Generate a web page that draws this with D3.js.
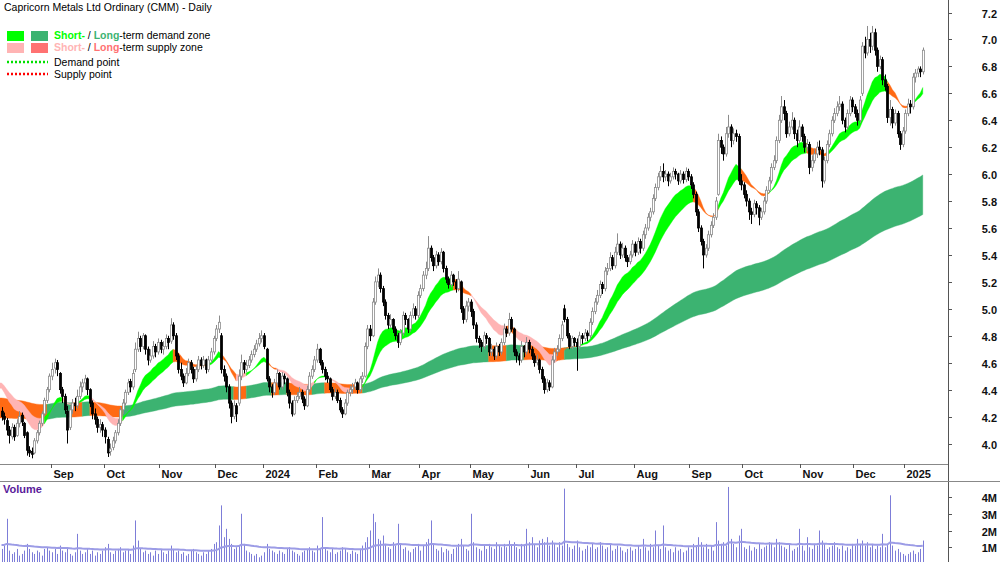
<!DOCTYPE html>
<html>
<head>
<meta charset="utf-8">
<script src="https://cdn.jsdelivr.net/npm/d3@7"></script>
<style>
  body { margin: 0; background: #fff; }
  svg { display: block; font-family: "Liberation Sans", Arial, sans-serif; }
</style>
</head>
<body>
<svg id="chart" width="1000" height="562"></svg>
<script>
'use strict';

// ---- data ----
var firstDay = '2023-08-04';
var holidays = ['2023-12-25','2023-12-26','2024-01-01','2024-01-26','2024-03-29','2024-04-01',
	'2024-04-25','2024-06-10','2024-12-25','2024-12-26','2025-01-01'];

var opens = [4.24,4.20,4.17,4.10,4.05,4.12,4.06,4.15,4.21,4.15,4.08,3.95,3.94,3.93,4.02,4.08,4.15,4.22,4.32,4.40,
	4.50,4.56,4.60,4.52,4.40,4.35,4.24,4.12,4.25,4.30,4.28,4.35,4.42,4.45,4.48,4.40,4.30,4.22,4.18,4.12,4.14,
	4.10,4.03,3.94,3.97,4.02,4.08,4.15,4.25,4.30,4.38,4.46,4.42,4.55,4.70,4.78,4.72,4.80,4.70,4.62,4.65,4.72,4.68,
	4.75,4.70,4.72,4.78,4.76,4.88,4.80,4.65,4.55,4.50,4.45,4.52,4.60,4.55,4.48,4.55,4.62,4.58,4.62,4.55,4.62,4.68,
	4.78,4.85,4.80,4.55,4.50,4.42,4.30,4.20,4.28,4.30,4.50,4.60,4.55,4.58,4.62,4.66,4.70,4.74,4.78,
	4.80,4.70,4.48,4.42,4.38,4.45,4.52,4.42,4.50,4.48,4.38,4.30,4.22,4.32,4.35,4.38,4.33,4.28,4.40,4.50,4.55,
	4.62,4.70,4.60,4.55,4.50,4.48,4.40,4.35,4.38,4.32,4.25,4.22,4.30,4.38,4.40,4.42,4.45,4.40,4.48,4.50,4.72,
	4.85,4.80,5.05,5.20,5.25,5.15,5.05,4.95,4.88,4.92,4.85,4.80,4.75,4.82,4.95,4.92,4.85,4.95,5.00,4.95,
	5.10,5.15,5.25,5.30,5.45,5.38,5.32,5.40,5.35,5.42,5.30,5.22,5.18,5.25,5.20,5.15,5.20,5.00,4.92,5.02,
	5.05,4.98,4.88,4.78,4.75,4.72,4.80,4.78,4.68,4.70,4.65,4.72,4.68,4.75,4.85,4.82,4.92,4.85,4.68,4.65,4.62,4.72,4.68,
	4.75,4.70,4.65,4.60,4.62,4.55,4.48,4.40,4.45,4.42,4.62,4.68,4.70,4.78,5.00,4.92,4.80,4.72,4.78,
	4.75,4.72,4.80,4.78,4.82,4.80,4.90,4.98,5.05,5.10,5.18,5.15,5.28,5.30,5.38,5.32,5.42,5.48,5.40,5.45,5.38,5.35,5.40,
	5.48,5.42,5.50,5.45,5.55,5.60,5.68,5.72,5.82,5.90,5.98,6.02,5.98,6.00,5.95,5.98,6.02,6.00,5.95,6.00,5.96,6.02,
	5.98,5.92,5.85,5.72,5.60,5.50,5.40,5.45,5.55,5.62,5.68,5.85,6.25,6.20,6.15,6.30,6.35,6.25,6.30,6.28,5.95,
	5.92,5.85,5.80,5.72,5.70,5.78,5.75,5.68,5.72,5.80,5.88,5.95,6.05,6.10,6.25,6.40,6.50,6.45,6.30,6.35,6.40,6.30,6.25,
	6.35,6.28,6.20,6.22,6.05,6.10,6.15,6.20,6.18,5.95,6.10,6.22,6.30,6.40,6.45,6.50,6.52,6.40,6.35,6.45,6.55,
	6.50,6.45,6.40,6.60,6.95,6.90,7.00,6.95,7.05,6.92,6.80,6.85,6.70,6.65,6.42,6.48,6.38,6.45,6.30,6.22,
	6.32,6.45,6.52,6.50,6.72,6.75,6.78,6.76];

var highs = [4.27,4.23,4.19,4.13,4.15,4.14,4.18,4.24,4.23,4.16,4.09,3.98,3.97,4.04,4.10,4.17,4.24,4.34,4.42,4.52,
	4.60,4.63,4.62,4.53,4.42,4.37,4.28,4.28,4.33,4.34,4.40,4.46,4.48,4.51,4.49,4.41,4.32,4.26,4.20,4.18,4.16,
	4.12,4.05,4.00,4.05,4.10,4.18,4.27,4.33,4.40,4.48,4.48,4.55,4.75,4.83,4.80,4.82,4.81,4.72,4.70,4.76,4.74,4.78,
	4.77,4.76,4.81,4.80,4.93,4.90,4.82,4.67,4.60,4.52,4.56,4.63,4.62,4.57,4.58,4.65,4.64,4.65,4.63,4.65,4.71,4.80,
	4.88,4.95,4.82,4.58,4.52,4.44,4.32,4.32,4.30,4.55,4.66,4.62,4.62,4.65,4.69,4.73,4.77,4.82,4.84,
	4.82,4.71,4.50,4.44,4.48,4.55,4.53,4.53,4.52,4.49,4.40,4.32,4.35,4.38,4.42,4.40,4.35,4.43,4.53,4.58,4.65,
	4.74,4.71,4.62,4.57,4.53,4.49,4.42,4.41,4.40,4.34,4.27,4.33,4.40,4.43,4.45,4.48,4.46,4.50,4.53,4.75,4.88,
	4.88,5.08,5.24,5.30,5.27,5.17,5.07,4.97,4.96,4.93,4.87,4.82,4.85,4.98,4.97,4.93,4.98,5.04,5.02,5.13,
	5.18,5.28,5.35,5.54,5.47,5.40,5.43,5.42,5.45,5.43,5.32,5.24,5.28,5.26,5.22,5.28,5.21,5.02,5.06,5.08,
	5.07,5.00,4.90,4.80,4.77,4.83,4.82,4.79,4.74,4.72,4.75,4.74,4.78,4.89,4.87,4.97,4.94,4.86,4.70,4.67,4.76,4.73,4.79,
	4.77,4.72,4.67,4.66,4.63,4.57,4.50,4.48,4.47,4.65,4.71,4.73,4.81,4.91,5.03,4.94,4.82,4.80,4.79,
	4.78,4.83,4.82,4.85,4.84,4.93,5.01,5.08,5.14,5.21,5.20,5.31,5.34,5.42,5.40,5.46,5.56,5.50,5.49,5.47,5.40,5.43,5.51,
	5.50,5.53,5.52,5.58,5.63,5.71,5.75,5.85,5.93,6.01,6.06,6.08,6.03,6.02,6.01,6.05,6.04,6.01,6.03,6.02,6.05,6.04,
	6.00,5.94,5.87,5.74,5.62,5.52,5.48,5.58,5.65,5.71,5.83,6.30,6.28,6.22,6.35,6.44,6.37,6.34,6.33,6.30,6.00,
	5.94,5.88,5.82,5.75,5.81,5.80,5.77,5.75,5.83,5.91,5.98,6.08,6.14,6.28,6.44,6.58,6.55,6.47,6.39,6.46,6.42,6.33,6.40,
	6.37,6.30,6.26,6.24,6.14,6.19,6.24,6.25,6.20,6.13,6.25,6.33,6.43,6.49,6.54,6.58,6.54,6.42,6.48,6.58,6.57,
	6.52,6.48,6.58,6.98,7.02,7.10,7.05,7.10,7.08,6.94,6.88,6.87,6.74,6.67,6.55,6.50,6.48,6.47,6.32,6.35,
	6.48,6.56,6.55,6.75,6.78,6.80,6.80,6.94];

var lows = [4.17,4.14,4.06,4.00,4.03,4.02,4.05,4.12,4.13,4.04,3.91,3.90,3.89,3.92,4.00,4.06,4.13,4.20,4.30,4.38,
	4.47,4.52,4.50,4.37,4.30,4.22,4.00,4.10,4.22,4.24,4.26,4.33,4.38,4.40,4.36,4.27,4.18,4.14,4.08,4.08,4.05,
	4.00,3.90,3.91,3.95,4.00,4.06,4.13,4.22,4.28,4.36,4.38,4.40,4.53,4.68,4.68,4.70,4.66,4.58,4.60,4.63,4.64,4.66,
	4.67,4.66,4.70,4.70,4.74,4.77,4.62,4.52,4.47,4.42,4.44,4.50,4.52,4.45,4.46,4.53,4.55,4.56,4.52,4.53,4.60,4.66,
	4.76,4.82,4.52,4.46,4.38,4.26,4.15,4.18,4.16,4.28,4.47,4.52,4.53,4.56,4.60,4.64,4.68,4.72,4.75,
	4.70,4.46,4.38,4.34,4.36,4.43,4.40,4.40,4.44,4.35,4.26,4.20,4.21,4.30,4.33,4.30,4.25,4.27,4.38,4.48,4.53,
	4.60,4.58,4.52,4.47,4.45,4.38,4.32,4.33,4.30,4.23,4.19,4.21,4.28,4.35,4.37,4.40,4.37,4.38,4.45,4.49,4.70,
	4.76,4.79,5.03,5.16,5.12,5.02,4.92,4.85,4.86,4.82,4.77,4.71,4.73,4.80,4.88,4.82,4.83,4.93,4.92,4.93,
	5.08,5.13,5.22,5.28,5.35,5.28,5.30,5.32,5.33,5.27,5.19,5.15,5.16,5.17,5.12,5.13,4.97,4.89,4.90,4.98,
	4.94,4.85,4.75,4.71,4.68,4.70,4.74,4.65,4.65,4.62,4.63,4.65,4.66,4.73,4.79,4.80,4.83,4.65,4.60,4.58,4.60,4.64,4.66,
	4.67,4.62,4.57,4.58,4.52,4.45,4.37,4.38,4.39,4.41,4.60,4.65,4.68,4.76,4.90,4.78,4.70,4.70,4.72,
	4.54,4.70,4.74,4.76,4.76,4.78,4.88,4.96,5.03,5.08,5.11,5.13,5.25,5.28,5.29,5.30,5.40,5.37,5.38,5.35,5.31,5.33,5.38,
	5.39,5.40,5.41,5.43,5.52,5.58,5.65,5.70,5.80,5.88,5.95,5.94,5.95,5.91,5.93,5.96,5.96,5.92,5.93,5.93,5.94,5.95,
	5.89,5.82,5.69,5.57,5.47,5.30,5.38,5.43,5.53,5.60,5.66,5.84,6.15,6.10,6.13,6.27,6.20,6.22,6.24,5.92,5.88,
	5.82,5.76,5.66,5.63,5.68,5.70,5.62,5.66,5.70,5.78,5.86,5.93,6.03,6.08,6.23,6.38,6.40,6.27,6.28,6.33,6.26,6.20,6.23,
	6.24,6.16,6.17,6.00,6.02,6.08,6.12,6.14,5.90,5.93,6.08,6.20,6.28,6.38,6.43,6.47,6.37,6.31,6.33,6.43,6.46,
	6.42,6.36,6.38,6.58,6.86,6.88,6.90,6.92,6.88,6.76,6.78,6.66,6.62,6.38,6.36,6.34,6.36,6.27,6.18,6.20,
	6.30,6.43,6.45,6.48,6.68,6.72,6.72,6.74];

var closes = [4.20,4.18,4.10,4.06,4.12,4.05,4.15,4.20,4.16,4.06,3.95,3.93,3.92,4.02,4.08,4.15,4.22,4.32,4.40,4.50,
	4.55,4.60,4.55,4.40,4.35,4.25,4.10,4.25,4.30,4.28,4.35,4.42,4.45,4.48,4.40,4.30,4.22,4.18,4.12,4.14,4.10,
	4.05,3.93,3.96,4.02,4.08,4.15,4.25,4.30,4.38,4.45,4.42,4.52,4.70,4.78,4.72,4.80,4.70,4.62,4.65,4.72,4.68,4.75,
	4.70,4.72,4.78,4.75,4.88,4.80,4.65,4.55,4.50,4.45,4.52,4.60,4.55,4.48,4.55,4.62,4.58,4.62,4.55,4.62,4.68,4.78,
	4.85,4.90,4.55,4.50,4.42,4.30,4.20,4.28,4.22,4.50,4.60,4.55,4.58,4.62,4.66,4.70,4.74,4.78,4.80,
	4.72,4.48,4.42,4.38,4.45,4.52,4.42,4.50,4.48,4.38,4.30,4.22,4.32,4.35,4.38,4.33,4.28,4.40,4.50,4.55,4.62,
	4.70,4.60,4.55,4.50,4.48,4.40,4.35,4.38,4.32,4.25,4.22,4.30,4.38,4.40,4.42,4.45,4.40,4.48,4.50,4.72,4.85,
	4.80,5.05,5.20,5.25,5.15,5.05,4.95,4.88,4.92,4.85,4.80,4.75,4.82,4.95,4.92,4.85,4.95,5.00,4.95,5.10,
	5.15,5.25,5.30,5.45,5.38,5.32,5.40,5.35,5.42,5.30,5.22,5.18,5.25,5.20,5.15,5.22,5.00,4.92,5.02,5.05,
	4.98,4.88,4.78,4.75,4.72,4.80,4.78,4.68,4.70,4.65,4.72,4.68,4.75,4.85,4.82,4.92,4.85,4.68,4.65,4.62,4.72,4.68,4.75,
	4.70,4.65,4.60,4.62,4.55,4.48,4.40,4.45,4.42,4.62,4.68,4.70,4.78,4.88,4.92,4.80,4.72,4.78,4.75,
	4.72,4.80,4.78,4.82,4.80,4.90,4.98,5.05,5.10,5.18,5.15,5.28,5.30,5.38,5.32,5.42,5.48,5.40,5.45,5.38,5.35,5.40,5.48,
	5.42,5.50,5.45,5.55,5.60,5.68,5.72,5.82,5.90,5.98,6.02,5.98,6.00,5.95,5.98,6.02,6.00,5.95,6.00,5.96,6.02,5.98,
	5.92,5.85,5.72,5.60,5.50,5.40,5.45,5.55,5.62,5.68,5.80,6.25,6.20,6.15,6.30,6.35,6.25,6.30,6.28,5.95,5.92,
	5.85,5.80,5.72,5.70,5.78,5.75,5.68,5.72,5.80,5.88,5.95,6.05,6.10,6.25,6.40,6.50,6.45,6.30,6.35,6.40,6.30,6.25,6.35,
	6.28,6.20,6.22,6.05,6.10,6.15,6.20,6.18,5.95,6.10,6.22,6.30,6.40,6.45,6.50,6.52,6.40,6.35,6.45,6.55,6.50,
	6.45,6.40,6.55,6.95,6.90,7.00,6.95,7.05,6.92,6.80,6.85,6.70,6.65,6.42,6.48,6.38,6.45,6.30,6.22,6.32,
	6.45,6.52,6.50,6.72,6.75,6.78,6.76,6.92];

// volume in millions of shares
var volumes = [0.9,1.1,2.7,0.8,0.6,0.7,0.9,0.5,0.6,0.8, 1.2,0.9,0.7,0.6,0.8,0.7,0.5,0.9,1.0,0.8,
	0.7,0.9,0.6,1.1,0.8,0.7,1.0,0.6,0.5,0.7, 1.8,0.8,0.6,0.7,0.9,0.6,0.8,0.5,0.7,0.6,
	0.8,1.0,1.2,0.7,0.6,0.8,0.9,1.0,0.7,0.8, 0.9,0.6,1.1,2.6,1.4,0.9,0.7,0.8,0.6,0.7,
	0.5,0.8,0.6,0.9,0.7,0.6,0.8,1.1,0.9,0.7, 0.8,0.6,0.7,0.5,0.6,0.8,0.9,0.7,0.6,0.5,
	0.7,0.6,0.8,0.9,1.2,1.3,2.3,3.5,1.6,2.1, 1.5,1.2,0.9,1.0,1.1,3.0,1.2,0.8,0.7,0.6,
	0.5,0.6,0.4,0.5,0.7,1.2,0.9,0.8,0.7,0.6, 0.8,0.7,0.6,0.9,1.0,0.8,0.7,0.6,0.5,0.7,
	0.8,0.9,1.0,0.8,0.7,1.1,0.9,2.8,1.0,0.8, 0.7,0.9,0.6,0.7,0.8,1.0,0.9,0.7,0.6,0.8,
	0.7,0.6,0.9,1.1,1.3,1.6,2.0,3.0,2.5,1.5, 1.4,1.7,1.2,1.0,0.9,1.3,1.1,2.4,1.2,0.9,
	1.0,0.8,0.7,0.9,1.0,1.2,0.8,1.1,1.3,1.5, 2.6,1.2,0.9,0.8,1.0,0.7,0.9,0.8,0.6,0.9,
	1.0,1.2,1.5,1.1,0.9,0.8,3.0,1.3,1.0,0.9, 0.8,1.1,0.9,1.2,1.0,0.9,1.3,1.1,1.0,1.2,
	1.0,1.4,1.1,1.3,1.0,0.9,1.2,1.1,2.1,1.3, 1.6,1.2,1.0,1.4,1.5,1.3,1.6,1.1,1.4,1.2,
	1.0,1.3,1.1,4.5,1.2,1.0,0.9,1.1,1.4,1.0, 0.8,0.9,1.1,1.0,1.2,0.9,1.0,1.3,1.1,0.9,
	1.0,1.2,0.8,0.9,1.1,1.0,0.8,0.7,0.9,1.0, 0.8,0.9,1.1,0.9,1.5,1.0,0.8,1.2,1.0,2.0,
	1.1,0.9,2.3,1.0,0.8,0.9,0.7,1.0,0.8,0.9, 0.7,0.8,1.0,0.9,1.2,1.1,1.6,1.3,1.0,1.2,
	0.9,1.1,0.8,2.5,1.4,1.2,1.3,1.1,4.6,1.5, 1.2,1.0,1.7,2.1,1.0,0.9,1.1,0.8,1.0,0.9,
	1.2,0.9,1.0,1.1,1.3,1.2,1.0,1.5,1.3,1.1, 1.0,0.9,1.2,0.8,0.9,1.0,2.1,1.1,0.8,1.6,
	1.0,0.9,1.2,1.1,2.0,1.4,1.2,0.9,1.0,1.1, 1.3,1.0,0.9,1.1,0.8,1.0,0.9,1.2,1.1,1.5,
	1.2,1.4,1.1,1.3,1.0,1.2,0.9,1.1,1.0,1.8, 1.0,1.2,4.1,1.1,0.8,0.9,0.7,0.6,0.5,0.6,
	0.7,0.8,0.6,0.7,0.9,1.4];

// zone states per run: [first day index, state]  D = demand, S = supply, O = supply (strong)
var shortRuns = [[0,'S'],[17,'D'],[24,'S'],[30,'D'],[35,'S'],[48,'D'],[68,'O'],[81,'D'],[87,'O'],[93,'S'],
	[97,'D'],[105,'O'],[109,'S'],[124,'D'],[129,'S'],[138,'O'],[143,'D'],[179,'O'],[186,'S'],[200,'O'],
	[204,'S'],[220,'O'],[228,'D'],[274,'O'],[284,'D'],[293,'O'],[304,'D'],[319,'O'],[327,'D'],[351,'O'],[361,'D']];
var longRuns = [[0,'O'],[18,'D'],[28,'O'],[32,'D'],[35,'O'],[48,'D'],[92,'O'],[97,'D'],[107,'O'],[110,'D'],
	[113,'O'],[123,'D'],[128,'O'],[143,'D'],[193,'O'],[200,'D'],[207,'O'],[223,'D']];

// moving-average periods and their values at the left edge
var shortPeriods = [15, 26];
var shortSeeds = [4.44, 4.47];
var longPeriods = [150, 230];
var longSeeds = [4.34, 4.19];
var volumeMAPeriod = 50;
var volumeMASeed = 1.15;

var priceTicks = d3.range(4.0, 7.21, 0.2);
var volumeTicks = [1, 2, 3, 4];
var monthNames = ['Jan','Feb','Mar','Apr','May','Jun','Jul','Aug','Sep','Oct','Nov','Dec'];

// ---- trading days ----
var days = [];
(function(){
	var d = new Date(firstDay + 'T00:00:00Z');
	while (days.length < closes.length) {
		var iso = d.toISOString().slice(0, 10);
		var wd = d.getUTCDay();
		if (wd !== 0 && wd !== 6 && holidays.indexOf(iso) < 0) days.push(new Date(d));
		d.setUTCDate(d.getUTCDate() + 1);
	}
})();

var monthStarts = [];
days.forEach(function(d, i){
	if (i > 0 && d.getUTCMonth() !== days[i - 1].getUTCMonth()) {
		monthStarts.push({i: i, label: d.getUTCMonth() === 0 ? String(d.getUTCFullYear()) : monthNames[d.getUTCMonth()]});
	}
});

function ema(values, period, seed){
	var k = 2 / (period + 1);
	var prev = seed;
	return values.map(function(v){ prev = prev + k * (v - prev); return prev; });
}

function band(periods, seeds){
	var a = ema(closes, periods[0], seeds[0]);
	var b = ema(closes, periods[1], seeds[1]);
	return a.map(function(v, i){ return {i: i, hi: Math.max(v, b[i]), lo: Math.min(v, b[i])}; });
}

var shortBand = band(shortPeriods, shortSeeds);
var longBand = band(longPeriods, longSeeds);
var volMA = ema(volumes, volumeMAPeriod, volumeMASeed);

// ---- layout ----
var svg = d3.select('#chart');
var plotRight = 948;
var priceBottom = 464;
var volTop = 481;

var x = d3.scaleLinear().domain([0, closes.length - 1]).range([1.5, 1.5 + (closes.length - 1) * 2.524]);
var y = d3.scaleLinear().domain([4.0, 7.2]).range([443.5, 12.5]);
var yv = d3.scaleLinear().domain([0, 4]).range([564, 497]);

var colours = {
	shortD: '#00ff00', shortS: '#ffb4b4', shortO: '#ff6a14',
	longD: '#3cb371', longO: '#ff6a14',
	legendLongS: '#ff7272'
};

var clipP = svg.append('clipPath').attr('id', 'clipP');
clipP.append('rect').attr('x', 0).attr('y', 0).attr('width', plotRight).attr('height', priceBottom);

var gPrice = svg.append('g').attr('clip-path', 'url(#clipP)');

function drawRuns(g, bandData, runs, prefix){
	var area = d3.area()
		.x(function(d){ return x(d.i); })
		.y0(function(d){ return y(d.lo); })
		.y1(function(d){ return y(d.hi); });
	runs.forEach(function(r, k){
		var s = r[0];
		var e = k + 1 < runs.length ? runs[k + 1][0] : bandData.length - 1;
		var seg = bandData.slice(s, e + 1);
		if (k === 0) seg = [{i: s - 1, hi: seg[0].hi, lo: seg[0].lo}].concat(seg);
		g.append('path')
			.attr('d', area(seg))
			.attr('fill', colours[prefix + r[1]])
			.attr('stroke', colours[prefix + r[1]])
			.attr('stroke-width', 0.4);
	});
}

drawRuns(gPrice.append('g'), longBand, longRuns, 'long');
drawRuns(gPrice.append('g'), shortBand, shortRuns, 'short');

// candles
var candles = gPrice.append('g').selectAll('g.candle')
	.data(closes.map(function(c, i){ return {i: i, o: opens[i], h: highs[i], l: lows[i], c: c}; }))
	.enter().append('g').attr('class', 'candle');

candles.append('line')
	.attr('x1', function(d){ return Math.round(x(d.i)) + 0.5; })
	.attr('x2', function(d){ return Math.round(x(d.i)) + 0.5; })
	.attr('y1', function(d){ return y(d.h); })
	.attr('y2', function(d){ return y(d.l); })
	.attr('stroke', function(d){ return d.c >= d.o ? '#8c8c8c' : '#000'; })
	.attr('stroke-width', 1);

candles.append('rect')
	.attr('x', function(d){ return Math.round(x(d.i)) - 0.5; })
	.attr('width', 2)
	.attr('y', function(d){ return y(Math.max(d.o, d.c)); })
	.attr('height', function(d){ return Math.max(1, Math.abs(y(d.o) - y(d.c))); })
	.attr('fill', function(d){ return d.c >= d.o ? '#fff' : '#000'; })
	.attr('stroke', function(d){ return d.c >= d.o ? '#8c8c8c' : '#000'; })
	.attr('stroke-width', 0.8);

// frame lines
svg.append('line').attr('x1', plotRight + 0.5).attr('x2', plotRight + 0.5).attr('y1', 0).attr('y2', 562)
	.attr('stroke', '#555').attr('stroke-width', 1);
svg.append('line').attr('x1', 0).attr('x2', plotRight).attr('y1', priceBottom + 0.5).attr('y2', priceBottom + 0.5)
	.attr('stroke', '#888').attr('stroke-width', 1);
svg.append('line').attr('x1', 0).attr('x2', 1000).attr('y1', volTop + 0.5).attr('y2', volTop + 0.5)
	.attr('stroke', '#888').attr('stroke-width', 1);

// price axis (right)
var gy = svg.append('g');
priceTicks.forEach(function(t){
	var yy = Math.round(y(t)) + 0.5;
	gy.append('line').attr('x1', plotRight).attr('x2', plotRight + 4).attr('y1', yy).attr('y2', yy)
		.attr('stroke', '#555');
	gy.append('text').attr('x', 997).attr('y', yy + 4).attr('text-anchor', 'end')
		.attr('font-size', 11).attr('font-weight', 'bold').attr('fill', '#111')
		.text(d3.format('.1f')(t));
});

// month axis
var gx = svg.append('g');
monthStarts.forEach(function(m){
	var xx = Math.round(x(m.i) - 1.26) + 0.5;
	gx.append('line').attr('x1', xx).attr('x2', xx).attr('y1', priceBottom).attr('y2', priceBottom + 4)
		.attr('stroke', '#555');
	gx.append('text').attr('x', xx + 2).attr('y', 478)
		.attr('font-size', 11).attr('font-weight', 'bold').attr('fill', '#111')
		.text(m.label);
});

// volume panel
var gVol = svg.append('g');
gVol.selectAll('line.vbar').data(volumes).enter().append('line')
	.attr('class', 'vbar')
	.attr('x1', function(d, i){ return Math.round(x(i)) + 0.5; })
	.attr('x2', function(d, i){ return Math.round(x(i)) + 0.5; })
	.attr('y1', yv(0))
	.attr('y2', function(d){ return yv(d); })
	.attr('stroke', '#7d7dd8').attr('stroke-width', 1);

gVol.append('path')
	.datum(volMA)
	.attr('d', d3.line().x(function(d, i){ return x(i); }).y(function(d){ return yv(d); }))
	.attr('fill', 'none').attr('stroke', '#9c9ce6').attr('stroke-width', 2);

volumeTicks.forEach(function(t){
	var yy = Math.round(yv(t)) + 0.5;
	gVol.append('line').attr('x1', plotRight).attr('x2', plotRight + 4).attr('y1', yy).attr('y2', yy)
		.attr('stroke', '#555');
	gVol.append('text').attr('x', 997).attr('y', yy + 4).attr('text-anchor', 'end')
		.attr('font-size', 11).attr('font-weight', 'bold').attr('fill', '#111')
		.text(t + 'M');
});

svg.append('text').attr('x', 3).attr('y', 493).attr('font-size', 11).attr('font-weight', 'bold')
	.attr('fill', '#5a1a9a').text('Volume');

// title and legend
svg.append('text').attr('x', 4).attr('y', 11).attr('font-size', 10.5).attr('fill', '#000')
	.text('Capricorn Metals Ltd Ordinary (CMM) - Daily');

var legend = svg.append('g').attr('font-size', 10.5).attr('fill', '#000');
var legendRows = [
	{y: 31, c1: colours.shortD, c2: colours.longD, t1: colours.shortD, t2: colours.longD, text: '-term demand zone'},
	{y: 43, c1: colours.shortS, c2: colours.legendLongS, t1: colours.shortS, t2: colours.legendLongS, text: '-term supply zone'}
];
legendRows.forEach(function(r){
	legend.append('rect').attr('x', 7).attr('y', r.y).attr('width', 17).attr('height', 10).attr('fill', r.c1);
	legend.append('rect').attr('x', 31).attr('y', r.y).attr('width', 17).attr('height', 10).attr('fill', r.c2);
	var t = legend.append('text').attr('x', 54).attr('y', r.y + 8);
	t.append('tspan').attr('fill', r.t1).attr('font-weight', 'bold').text('Short-');
	t.append('tspan').text(' / ');
	t.append('tspan').attr('fill', r.t2).attr('font-weight', 'bold').text('Long');
	t.append('tspan').text(r.text);
});
[{y: 62, c: '#00e000', text: 'Demand point'}, {y: 74, c: '#ff0000', text: 'Supply point'}].forEach(function(r){
	legend.append('line').attr('x1', 7).attr('x2', 48).attr('y1', r.y).attr('y2', r.y)
		.attr('stroke', r.c).attr('stroke-width', 2.5).attr('stroke-dasharray', '2,2');
	legend.append('text').attr('x', 54).attr('y', r.y + 4).text(r.text);
});
</script>
</body>
</html>
